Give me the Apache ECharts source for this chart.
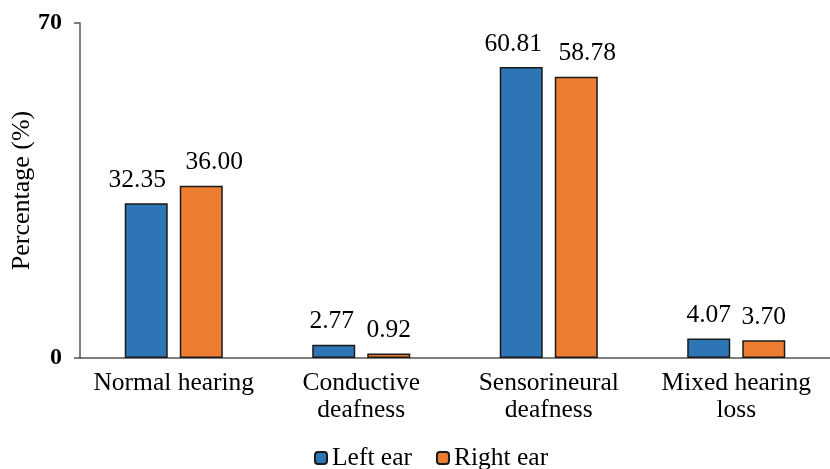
<!DOCTYPE html>
<html>
<head>
<meta charset="utf-8">
<script src="https://cdn.jsdelivr.net/npm/echarts@6/dist/echarts.min.js"></script>
<style>
html,body{margin:0;padding:0;background:#fff;}
#chart{width:830px;height:469px;}
</style>
</head>
<body>
<div id="chart"></div>
<script>
var categories = ['Normal hearing', 'Conductive\ndeafness', 'Sensorineural\ndeafness', 'Mixed hearing\nloss'];
var leftEar = [32.35, 2.77, 60.81, 4.07];
var rightEar = [36.00, 0.92, 58.78, 3.70];
var seriesNames = ['Left ear', 'Right ear'];

// 标签水平偏移，避免相邻数值重叠
var leftShift = [-9, -2, -8, 0];
var rightShift = [13, 0, 11, 0];

var font = 'Liberation Serif, Times New Roman, serif';
var fs = 25.5;

function withShift(vals, shifts) {
    return vals.map(function (v, i) {
        return {value: v, label: {offset: [shifts[i], 0]}};
    });
}

var myChart = echarts.init(document.getElementById('chart'));

var option = {
    animation: false,
    textStyle: {fontFamily: font, color: '#000'},
    grid: {
        left: 80,
        right: 0,
        top: 23,
        bottom: 111,
        outerBoundsMode: 'none',
        containLabel: false
    },
    legend: {
        data: seriesNames,
        top: 440,
        left: 309,
        itemWidth: 12,
        itemHeight: 12,
        itemGap: 24,
        textStyle: {fontFamily: font, fontSize: fs, color: '#000'}
    },
    xAxis: {
        type: 'category',
        data: categories,
        axisLine: {lineStyle: {color: '#555', width: 1.5}},
        axisTick: {show: false},
        axisLabel: {
            interval: 0,
            fontFamily: font,
            fontSize: fs,
            color: '#000',
            lineHeight: 27,
            margin: 12
        }
    },
    yAxis: {
        type: 'value',
        min: 0,
        max: 70,
        interval: 70,
        name: 'Percentage (%)',
        nameLocation: 'middle',
        nameGap: 45,
        nameMoveOverlap: false,
        nameTextStyle: {fontFamily: font, fontSize: 26, color: '#000'},
        splitLine: {show: false},
        axisLine: {show: true, lineStyle: {color: '#555', width: 1.5}},
        axisTick: {show: true, length: 6, lineStyle: {color: '#555', width: 1.5}},
        axisLabel: {fontFamily: font, fontSize: 24, fontWeight: 'bold', color: '#000', margin: 18}
    },
    series: [
        {
            name: seriesNames[0],
            type: 'bar',
            data: withShift(leftEar, leftShift),
            barWidth: 43,
            barGap: '28%',
            itemStyle: {color: '#2e75b6', borderColor: '#1a1a1a', borderWidth: 1.5},
            label: {show: true, position: 'top', distance: 10, fontFamily: font, fontSize: fs, color: '#000',
                formatter: function (p) { return p.value.toFixed(2); }}
        },
        {
            name: seriesNames[1],
            type: 'bar',
            data: withShift(rightEar, rightShift),
            barWidth: 43,
            itemStyle: {color: '#ed7d31', borderColor: '#1a1a1a', borderWidth: 1.5},
            label: {show: true, position: 'top', distance: 10, fontFamily: font, fontSize: fs, color: '#000',
                formatter: function (p) { return p.value.toFixed(2); }}
        }
    ]
};

myChart.setOption(option);
</script>
</body>
</html>
